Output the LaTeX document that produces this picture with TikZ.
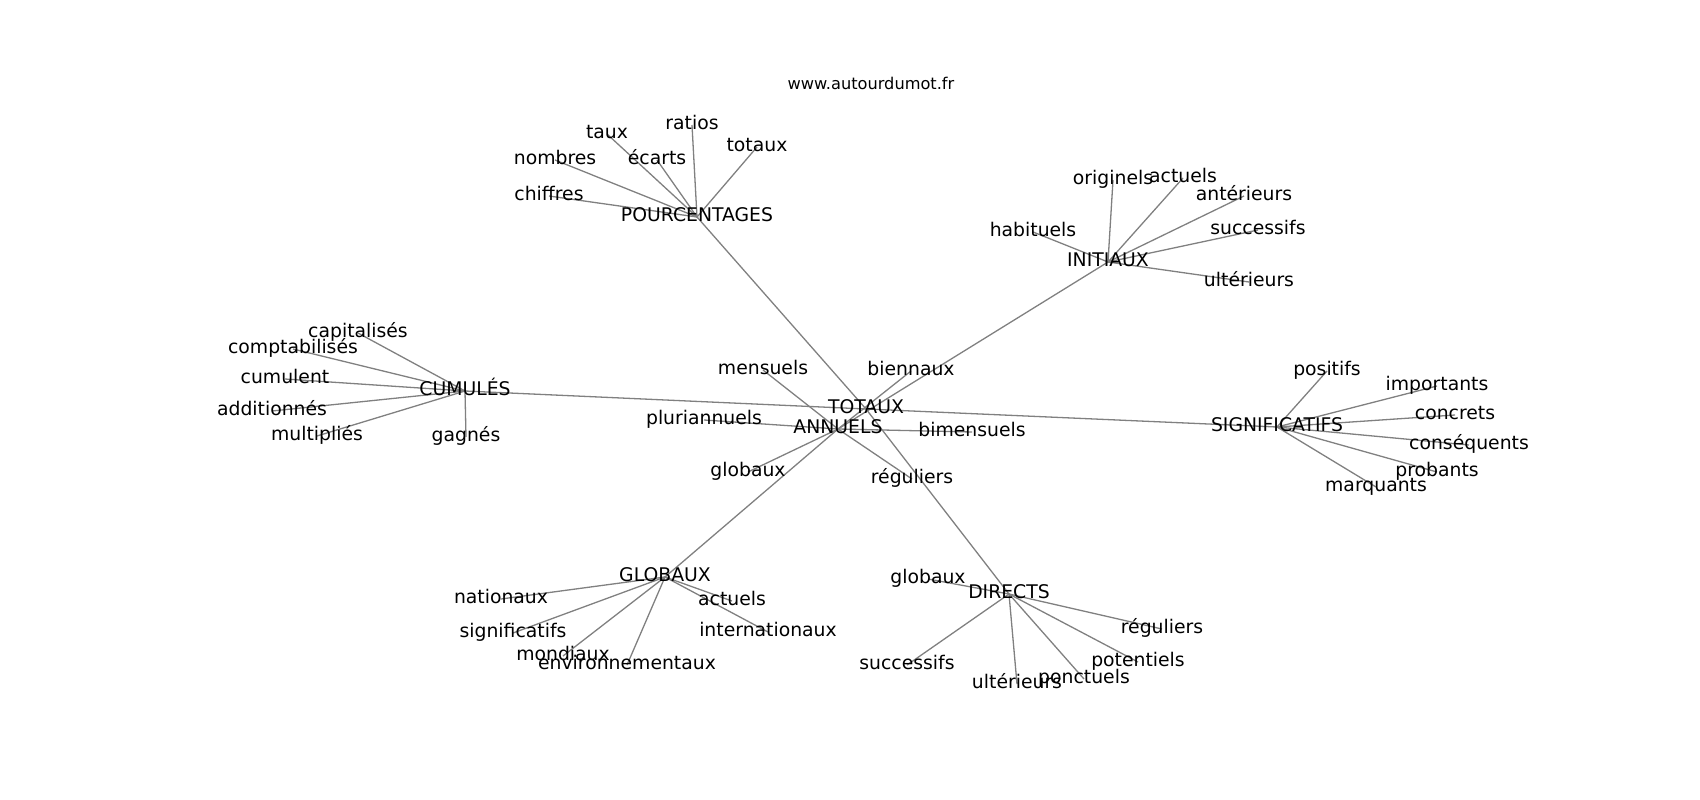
\documentclass[tikz,border=0pt]{standalone}
\usepackage{fontspec}
\setmainfont{DejaVu Sans}
\usetikzlibrary{backgrounds}

\begin{document}
\begin{tikzpicture}[x=1pt, y=-1pt,
		mot/.style={inner sep=0pt, text height=1.0em, text depth=0.06em, font=\fontsize{18.8}{22}\selectfont},
		site/.style={inner sep=0pt, font=\fontsize{16.2}{19}\selectfont},
		lien/.style={draw=gray, line width=1.3pt}]
			%%%%% START %%%%%
			
			\useasboundingbox (0, 0) rectangle (1700, 800);
			
			\node[site] (titre) at (871, 83) {www.autourdumot.fr};
			
			% centre
			\node[mot] (totaux) at (866, 409) {TOTAUX};
			\node[mot] (annuels) at (838, 429) {ANNUELS};
			\node[mot] (mensuels) at (763, 370) {mensuels};
			\node[mot] (biennaux) at (911, 371) {biennaux};
			\node[mot] (pluriannuels) at (704, 420) {pluriannuels};
			\node[mot] (bimensuels) at (972, 432) {bimensuels};
			\node[mot] (globauxA) at (748, 472) {globaux};
			\node[mot] (reguliersA) at (912, 479) {réguliers};
			
			% pourcentages
			\node[mot] (pourcentages) at (697, 217) {POURCENTAGES};
			\node[mot] (taux) at (607, 134) {taux};
			\node[mot] (ratios) at (692, 125) {ratios};
			\node[mot] (totauxP) at (757, 147) {totaux};
			\node[mot] (nombres) at (555, 160) {nombres};
			\node[mot] (ecarts) at (657, 160) {écarts};
			\node[mot] (chiffres) at (549, 196) {chiffres};
			
			% cumules
			\node[mot] (cumules) at (465, 391) {CUMULÉS};
			\node[mot] (capitalises) at (358, 333) {capitalisés};
			\node[mot] (comptabilises) at (293, 349) {comptabilisés};
			\node[mot] (cumulent) at (285, 379) {cumulent};
			\node[mot] (additionnes) at (272, 411) {additionnés};
			\node[mot] (multiplies) at (317, 436) {multipliés};
			\node[mot] (gagnes) at (466, 437) {gagnés};
			
			% initiaux
			\node[mot] (initiaux) at (1108, 262) {INITIAUX};
			\node[mot] (originels) at (1113, 180) {originels};
			\node[mot] (actuelsI) at (1183, 178) {actuels};
			\node[mot] (anterieurs) at (1244, 196) {antérieurs};
			\node[mot] (habituels) at (1033, 232) {habituels};
			\node[mot] (successifsI) at (1258, 230) {successifs};
			\node[mot] (ulterieursI) at (1249, 282) {ultérieurs};
			
			% significatifs
			\node[mot] (significatifs) at (1277, 427) {SIGNIFICATIFS};
			\node[mot] (positifs) at (1327, 371) {positifs};
			\node[mot] (importants) at (1437, 386) {importants};
			\node[mot] (concrets) at (1455, 415) {concrets};
			\node[mot] (consequents) at (1469, 445) {conséquents};
			\node[mot] (probants) at (1437, 472) {probants};
			\node[mot] (marquants) at (1376, 487) {marquants};
			
			% globaux
			\node[mot] (globaux) at (665, 577) {GLOBAUX};
			\node[mot] (nationaux) at (501, 599) {nationaux};
			\node[mot] (actuelsG) at (732, 601) {actuels};
			\node[mot] (significatifsG) at (513, 633) {significatifs};
			\node[mot] (internationaux) at (768, 632) {internationaux};
			\node[mot] (mondiaux) at (563, 656) {mondiaux};
			\node[mot] (environnementaux) at (627, 665) {environnementaux};
			
			% directs
			\node[mot] (directs) at (1009, 594) {DIRECTS};
			\node[mot] (globauxD) at (928, 579) {globaux};
			\node[mot] (reguliersD) at (1162, 629) {réguliers};
			\node[mot] (successifsD) at (907, 665) {successifs};
			\node[mot] (potentiels) at (1138, 662) {potentiels};
			\node[mot] (ulterieursD) at (1017, 684) {ultérieurs};
			\node[mot] (ponctuels) at (1084, 679) {ponctuels};
			
			\begin{pgfonlayer}{background}
				\foreach \a/\b in {totaux/pourcentages, totaux/directs, totaux/cumules, totaux/significatifs,
						annuels/mensuels, annuels/biennaux, annuels/pluriannuels, annuels/bimensuels,
						annuels/globauxA, annuels/reguliersA, annuels/initiaux, annuels/globaux,
						pourcentages/taux, pourcentages/ratios, pourcentages/totauxP, pourcentages/nombres,
						pourcentages/ecarts, pourcentages/chiffres,
						cumules/capitalises, cumules/comptabilises, cumules/cumulent, cumules/additionnes,
						cumules/multiplies, cumules/gagnes,
						initiaux/originels, initiaux/actuelsI, initiaux/anterieurs, initiaux/habituels,
						initiaux/successifsI, initiaux/ulterieursI,
						significatifs/positifs, significatifs/importants, significatifs/concrets,
						significatifs/consequents, significatifs/probants, significatifs/marquants,
						globaux/nationaux, globaux/actuelsG, globaux/significatifsG, globaux/internationaux,
						globaux/mondiaux, globaux/environnementaux,
						directs/globauxD, directs/reguliersD, directs/successifsD, directs/potentiels,
						directs/ulterieursD, directs/ponctuels}
					\draw[lien] (\a.center) -- (\b.center);
			\end{pgfonlayer}
			
			%%%%% END %%%%%
		\end{tikzpicture}
\end{document}
